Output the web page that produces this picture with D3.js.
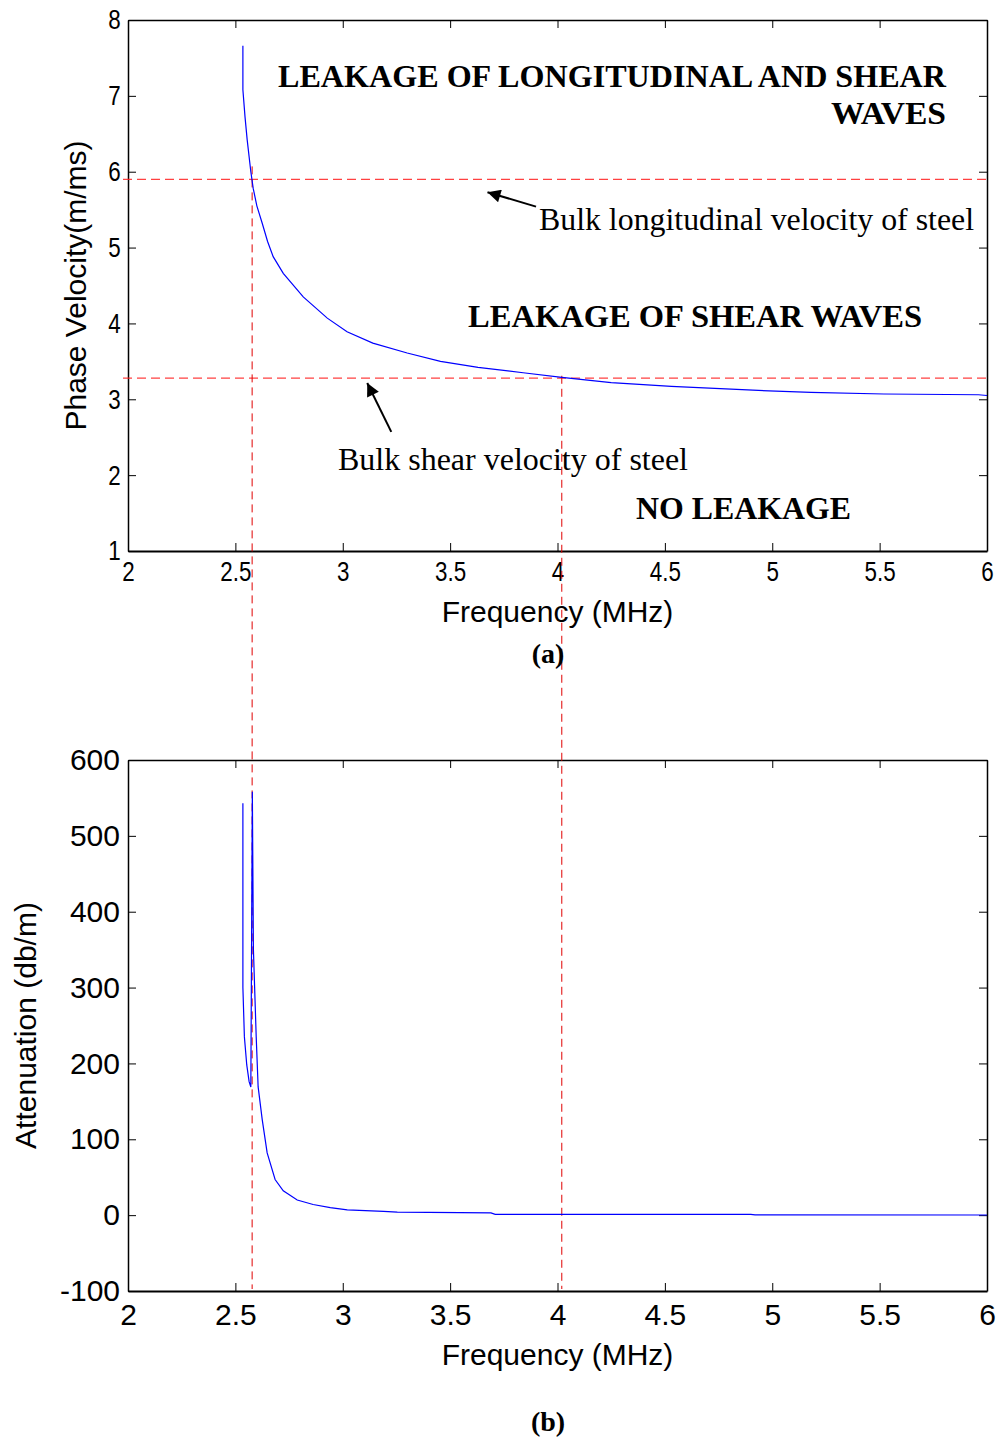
<!DOCTYPE html>
<html>
<head>
<meta charset="utf-8">
<script src="https://cdn.jsdelivr.net/npm/d3@7"></script>
<style>
  body { margin: 0; background: #fff; }
  svg { display: block; }
  .serif { font-family: "Liberation Serif", "Times New Roman", serif; }
  .sans { font-family: "Liberation Sans", Arial, sans-serif; }
</style>
</head>
<body>
<div id="chart"></div>
<script>
// Data
const freqA = [2.535, 2.535, 2.545, 2.555, 2.572, 2.583, 2.60, 2.625, 2.65, 2.676, 2.723, 2.816, 2.928, 3.02, 3.14, 3.30, 3.455, 3.63, 3.84, 4.02, 4.25, 4.53, 4.91, 5.18, 5.52, 5.96, 6.0];
const velA = [7.66, 7.08, 6.72, 6.42, 6.0, 5.78, 5.55, 5.32, 5.08, 4.88, 4.66, 4.35, 4.07, 3.89, 3.74, 3.61, 3.50, 3.42, 3.35, 3.29, 3.22, 3.17, 3.12, 3.09, 3.07, 3.06, 3.05];

const freqB = [2.535, 2.535, 2.542, 2.553, 2.564, 2.572, 2.579, 2.584, 2.597, 2.606, 2.625, 2.648, 2.685, 2.723, 2.788, 2.862, 2.942, 3.021, 3.19, 3.254, 3.69, 3.71, 4.90, 4.92, 6.0];
const attB = [543, 300, 235, 198, 176, 169, 558, 350, 235, 169, 126, 82, 47, 32, 20, 14, 10, 7, 5, 4, 3, 1, 1, 0.3, 0.2];

const bulkLong = 5.9;
const bulkShear = 3.28;
const cutoffFreqs = [2.578, 4.02];
const cutoffStartVel = [6.07, 3.31];

const xTicks = [2, 2.5, 3, 3.5, 4, 4.5, 5, 5.5, 6];
const yTicksA = [1, 2, 3, 4, 5, 6, 7, 8];
const yTicksB = [-100, 0, 100, 200, 300, 400, 500, 600];

// Dimensions
const dims = {
  width: 1001,
  height: 1438,
  left: 128,
  right: 987,
  topA: 20,
  topB: 760,
  plotH: 531
};

const svg = d3.select('#chart')
  .append('svg')
  .attr('width', dims.width)
  .attr('height', dims.height);

svg.append('defs').append('marker')
  .attr('id', 'head')
  .attr('viewBox', '0 0 10 10')
  .attr('refX', 10)
  .attr('refY', 5)
  .attr('markerUnits', 'userSpaceOnUse')
  .attr('markerWidth', 17)
  .attr('markerHeight', 13)
  .attr('orient', 'auto')
  .append('path')
  .attr('d', 'M0,0 L10,5 L0,10 Z')
  .attr('fill', '#000');

// Scales
const xScale = d3.scaleLinear().domain([2, 6]).range([dims.left, dims.right]);
const yA = d3.scaleLinear().domain([1, 8]).range([dims.topA + dims.plotH, dims.topA]);
const yB = d3.scaleLinear().domain([-100, 600]).range([dims.topB + dims.plotH, dims.topB]);

const plain = (d) => String(d);

function drawAxes(yScale, yTicks, top, tickFont, condensed, padX, padY) {
  const bottom = top + dims.plotH;
  const styleAxis = (g) => {
    g.selectAll('path').attr('stroke', '#000').attr('stroke-width', 1.5);
    g.selectAll('line').attr('stroke', '#000').attr('stroke-width', 1);
    g.selectAll('text')
      .attr('fill', '#000')
      .attr('font-family', '"Liberation Sans", Arial, sans-serif')
      .attr('font-size', tickFont);
  };

  const gx = svg.append('g')
    .attr('transform', `translate(0,${bottom})`)
    .call(d3.axisBottom(xScale).tickValues(xTicks).tickFormat(plain).tickSize(-8).tickSizeOuter(0).tickPadding(padX))
    .call(styleAxis);
  const gy = svg.append('g')
    .attr('transform', `translate(${dims.left},0)`)
    .call(d3.axisLeft(yScale).tickValues(yTicks).tickFormat(plain).tickSize(-8).tickSizeOuter(0).tickPadding(padY))
    .call(styleAxis);
  svg.append('g')
    .attr('transform', `translate(0,${top})`)
    .call(d3.axisTop(xScale).tickValues(xTicks).tickSize(-8).tickSizeOuter(0).tickFormat(''))
    .call(styleAxis);
  svg.append('g')
    .attr('transform', `translate(${dims.right},0)`)
    .call(d3.axisRight(yScale).tickValues(yTicks).tickSize(-8).tickSizeOuter(0).tickFormat(''))
    .call(styleAxis);

  gx.selectAll('.domain').attr('stroke-width', 2);
  if (condensed) {
    gx.selectAll('text').attr('transform', 'scale(0.8,1)');
    gy.selectAll('text').attr('transform', 'scale(0.8,1)');
  }
  return { gx, gy };
}

// Plot (a)
drawAxes(yA, yTicksA, dims.topA, 28, true, 10, 9);

// Plot (b)
drawAxes(yB, yTicksB, dims.topB, 30, false, 13, 8);

// Bulk velocity reference lines
svg.selectAll('.bulk')
  .data([bulkLong, bulkShear])
  .join('line')
  .attr('class', 'bulk')
  .attr('x1', xScale(2) - 5)
  .attr('x2', xScale(6))
  .attr('y1', (d) => yA(d))
  .attr('y2', (d) => yA(d))
  .attr('stroke', '#ff2020')
  .attr('stroke-opacity', 0.85)
  .attr('stroke-width', 1.2)
  .attr('stroke-dasharray', '9,5');

// Cutoff frequency lines spanning both plots
svg.selectAll('.cutoff')
  .data(cutoffFreqs)
  .join('line')
  .attr('class', 'cutoff')
  .attr('x1', (d) => xScale(d))
  .attr('x2', (d) => xScale(d))
  .attr('y1', (d, i) => yA(cutoffStartVel[i]))
  .attr('y2', yB(-100) - 2)
  .attr('stroke', '#e00000')
  .attr('stroke-width', 1)
  .attr('stroke-dasharray', '8,5');

// Curves
const lineA = d3.line()
  .x((d) => xScale(d[0]))
  .y((d) => yA(d[1]));
svg.append('path')
  .datum(d3.zip(freqA, velA))
  .attr('d', lineA)
  .attr('fill', 'none')
  .attr('stroke', '#0000ff')
  .attr('stroke-width', 1.2);

const lineB = d3.line()
  .x((d) => xScale(d[0]))
  .y((d) => yB(d[1]));
svg.append('path')
  .datum(d3.zip(freqB, attB))
  .attr('d', lineB)
  .attr('fill', 'none')
  .attr('stroke', '#0000ff')
  .attr('stroke-width', 1.2);

// Annotations in (a)
const notes = [
  { text: 'LEAKAGE OF LONGITUDINAL AND SHEAR', x: 946, y: 87, anchor: 'end', bold: true, len: 668 },
  { text: 'WAVES', x: 946, y: 124, anchor: 'end', bold: true, len: 115 },
  { text: 'Bulk longitudinal velocity of steel', x: 539, y: 230, anchor: 'start', bold: false, len: 435 },
  { text: 'LEAKAGE OF SHEAR WAVES', x: 468, y: 327, anchor: 'start', bold: true, len: 454 },
  { text: 'Bulk shear velocity of steel', x: 338, y: 470, anchor: 'start', bold: false, len: 350 },
  { text: 'NO LEAKAGE', x: 636, y: 519, anchor: 'start', bold: true, len: 215 }
];
svg.selectAll('.note')
  .data(notes)
  .join('text')
  .attr('class', 'note serif')
  .attr('x', (d) => d.x)
  .attr('y', (d) => d.y)
  .attr('text-anchor', (d) => d.anchor)
  .attr('font-size', 32)
  .attr('font-weight', (d) => d.bold ? 'bold' : 'normal')
  .attr('textLength', (d) => d.len)
  .attr('lengthAdjust', 'spacingAndGlyphs')
  .text((d) => d.text);

const arrows = [
  { from: [3.90, 5.54], to: [3.674, 5.73] },
  { from: [3.226, 2.57], to: [3.114, 3.215] }
];
svg.selectAll('.arrow')
  .data(arrows)
  .join('line')
  .attr('class', 'arrow')
  .attr('x1', (d) => xScale(d.from[0]))
  .attr('y1', (d) => yA(d.from[1]))
  .attr('x2', (d) => xScale(d.to[0]))
  .attr('y2', (d) => yA(d.to[1]))
  .attr('stroke', '#000')
  .attr('stroke-width', 2)
  .attr('marker-end', 'url(#head)');

// Axis titles
const midX = (dims.left + dims.right) / 2;
svg.append('text').attr('class', 'sans')
  .attr('x', midX).attr('y', 622)
  .attr('text-anchor', 'middle').attr('font-size', 30)
  .text('Frequency (MHz)');
svg.append('text').attr('class', 'sans')
  .attr('x', midX).attr('y', 1365)
  .attr('text-anchor', 'middle').attr('font-size', 30)
  .text('Frequency (MHz)');
svg.append('text').attr('class', 'sans')
  .attr('transform', `translate(86,${yA(4.5)}) rotate(-90)`)
  .attr('text-anchor', 'middle').attr('font-size', 30)
  .text('Phase Velocity(m/ms)');
svg.append('text').attr('class', 'sans')
  .attr('transform', `translate(36,${yB(250)}) rotate(-90)`)
  .attr('text-anchor', 'middle').attr('font-size', 30)
  .text('Attenuation (db/m)');

svg.append('text').attr('class', 'serif')
  .attr('x', 548).attr('y', 663)
  .attr('text-anchor', 'middle').attr('font-size', 28).attr('font-weight', 'bold')
  .text('(a)');
svg.append('text').attr('class', 'serif')
  .attr('x', 548).attr('y', 1431)
  .attr('text-anchor', 'middle').attr('font-size', 28).attr('font-weight', 'bold')
  .text('(b)');
</script>
</body>
</html>
